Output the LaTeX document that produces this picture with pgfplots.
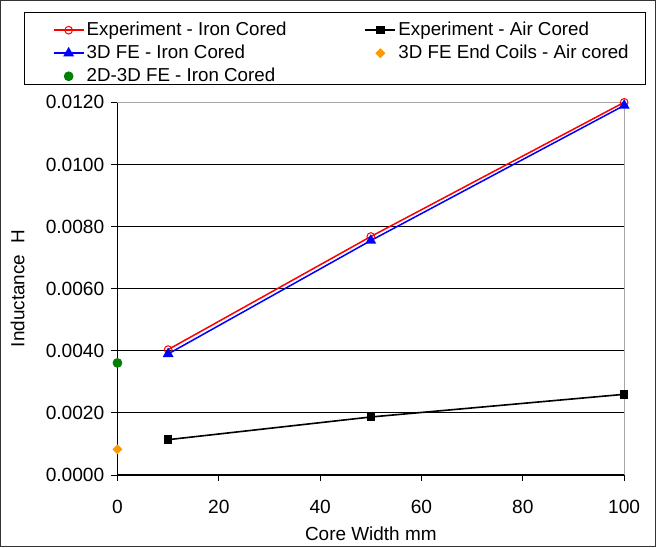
\documentclass[border=0pt]{standalone}
\usepackage{fontspec}
\setmainfont{Liberation Sans}
\usepackage{pgfplots}
\pgfplotsset{compat=1.18}
\definecolor{exred}{RGB}{255,0,0}
\definecolor{feblue}{RGB}{0,0,255}
\definecolor{endorange}{RGB}{255,153,0}
\definecolor{dgreen}{RGB}{0,128,0}
\begin{document}
\begin{tikzpicture}
\begin{axis}[
  scale only axis,
  width=251.5pt, height=185pt,
  xmin=0, xmax=100, ymin=0, ymax=0.012,
  xtick={0,20,...,100},
  ytick={0,0.002,...,0.0121},
  scaled y ticks=false,
  yticklabel style={/pgf/number format/.cd, fixed, fixed zerofill, precision=4},
  /pgf/number format/assume math mode=true,
  ticklabel style={font=\fontsize{9.5}{11.4}\selectfont},
  xticklabel style={yshift=-6pt},
  tick align=outside,
  major tick length=3pt,
  axis x line*=bottom, axis y line*=left,
  axis line style={black, line width=0.6pt, -},
  tick style={black, line width=0.5pt},
  ymajorgrids,
  major grid style={black, line width=0.5pt},
  clip=false,
  xlabel={Core Width mm},
  ylabel={Inductance\ \ H},
  every axis x label/.style={at={(axis description cs:0.5,-0.157)}, anchor=center, font=\fontsize{9.4}{11.3}\selectfont},
  every axis y label/.style={at={(axis description cs:-0.197,0.5)}, anchor=center, rotate=90, font=\fontsize{9.4}{11.3}\selectfont},
  legend columns=2,
  legend cell align=left,
  legend image code/.code={\draw[mark repeat=2,mark phase=2] plot coordinates {(0cm,0cm) (0.26cm,0cm) (0.52cm,0cm)};},
  legend style={at={(axis description cs:-0.128,1.2234)}, anchor=north west,
    draw=none, fill=none, font=\fontsize{9.3}{11.2}\selectfont,
    inner xsep=0pt, inner ysep=0pt, row sep=0.8pt,
    nodes={inner sep=1.2pt},
    /tikz/column 2/.style={column sep=37.5pt},
    /tikz/column 4/.style={column sep=0pt}},
]
\addplot[exred, line width=0.75pt, mark=o, mark size=1.9pt, mark options={solid, line width=0.5pt}]
  coordinates {(10,0.00404) (50,0.00768) (100,0.0120)};
\addlegendentry{Experiment - Iron Cored}
\addplot[black, line width=0.8pt, mark=square*, mark size=1.7pt, mark options={solid}]
  coordinates {(10,0.00114) (50,0.00187) (100,0.00260)};
\addlegendentry{Experiment - Air Cored}
\addplot[feblue, line width=0.75pt, mark=triangle*, mark size=2.4pt, mark options={solid}]
  coordinates {(10,0.00390) (50,0.00755) (100,0.0119)};
\addlegendentry{3D FE - Iron Cored}
\addplot[only marks, endorange, mark=square*, mark size=1.55pt, mark options={rotate=45}]
  coordinates {(0,0.00083)};
\addlegendentry{3D FE End Coils - Air cored}
\addplot[only marks, dgreen, mark=*, mark size=2.2pt]
  coordinates {(0,0.00361)};
\addlegendentry{2D-3D FE - Iron Cored}
\draw[gray!70, line width=0.6pt] (axis description cs:0,1) -- (axis description cs:1,1) -- (axis description cs:1,0);
\end{axis}
\draw[black, line width=0.5pt] (-46pt,193.75pt) rectangle (262pt,229.75pt);
\draw[black!80, line width=0.6pt] (-58pt,-35.5pt) rectangle (267pt,235.5pt);
\end{tikzpicture}
\end{document}
